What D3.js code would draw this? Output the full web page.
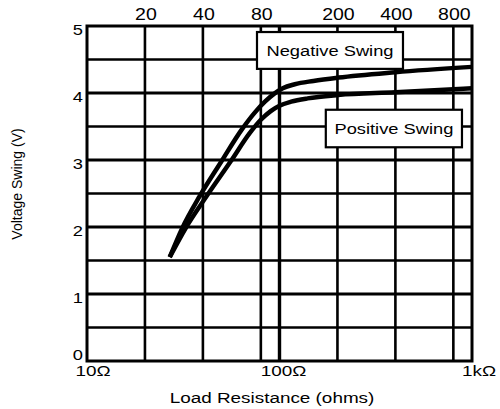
<!DOCTYPE html>
<html><head><meta charset="utf-8">
<script src="https://cdn.jsdelivr.net/npm/d3@7"></script>
<style>body{margin:0;background:#fff}svg{display:block}</style>
</head><body>
<script>
// ---- data ----
const negR = [26.9, 31.2, 38.5, 49.7, 63.5, 74, 84, 94, 104, 120, 150, 202, 400, 1000];
const negV = [1.55, 1.98, 2.46, 2.97, 3.45, 3.70, 3.87, 3.99, 4.07, 4.13, 4.18, 4.23, 4.31, 4.39];
const posR = [26.9, 32.8, 41.6, 55.8, 70, 80, 90, 100, 115, 140, 202, 400, 1000];
const posV = [1.55, 2.00, 2.45, 2.98, 3.40, 3.60, 3.73, 3.81, 3.87, 3.92, 3.97, 4.01, 4.07];
const topTicks = [20, 40, 80, 200, 400, 800];
const vGrid = [20, 40, 80, 100, 200, 400, 800];
const bottomTicks = [10, 100, 1000];
const bottomLabels = ["10\u03A9", "100\u03A9", "1k\u03A9"];
const yTicks = [0, 1, 2, 3, 4, 5];
const hGrid = [0.5, 1, 1.5, 2, 2.5, 3, 3.5, 4, 4.5];
const legendNeg = {label: "Negative Swing", r0: 76.4, r1: 438, v0: 4.36, v1: 4.91};
const legendPos = {label: "Positive Swing", r0: 174, r1: 887, v0: 3.19, v1: 3.75};

const W = 500, H = 409;
const x = d3.scaleLog().domain([10, 1000]).range([87, 472]);
const y = d3.scaleLinear().domain([0, 5]).range([361, 26]);
const SX = 1.22;
const FONT = "'Liberation Sans', Arial, Helvetica, sans-serif";

const svg = d3.select("body").append("svg").attr("width", W).attr("height", H);

function txt(px, py, s, size, anchor) {
  return svg.append("text")
    .attr("transform", `translate(${px},${py}) scale(${SX},1)`)
    .attr("text-anchor", anchor || "middle")
    .attr("font-family", FONT).attr("font-size", size).attr("fill", "#000")
    .text(s);
}

// grid
svg.append("g").selectAll("line").data(hGrid).join("line")
  .attr("x1", x.range()[0]).attr("x2", x.range()[1])
  .attr("y1", d => y(d)).attr("y2", d => y(d))
  .attr("stroke", "#000").attr("stroke-width", d => Number.isInteger(d) ? 2.8 : 2.3);
svg.append("g").selectAll("line").data(vGrid).join("line")
  .attr("x1", d => x(d)).attr("x2", d => x(d))
  .attr("y1", y(0)).attr("y2", y(5))
  .attr("stroke", "#000").attr("stroke-width", d => d === 100 ? 3.4 : 2.6);

// frame
svg.append("rect").attr("x", x(10)).attr("y", y(5))
  .attr("width", x(1000) - x(10)).attr("height", y(0) - y(5))
  .attr("fill", "none").attr("stroke", "#000").attr("stroke-width", 3);

// curves
const line = d3.line().x(d => x(d[0])).y(d => y(d[1])).curve(d3.curveMonotoneX);
svg.append("path").datum(negR.map((r, i) => [r, negV[i]])).attr("d", line)
  .attr("fill", "none").attr("stroke", "#000").attr("stroke-width", 4.5).attr("stroke-linejoin", "round");
svg.append("path").datum(posR.map((r, i) => [r, posV[i]])).attr("d", line)
  .attr("fill", "none").attr("stroke", "#000").attr("stroke-width", 4.5).attr("stroke-linejoin", "round");

// legend boxes
[legendNeg, legendPos].forEach(L => {
  svg.append("rect").attr("x", x(L.r0)).attr("y", y(L.v1))
    .attr("width", x(L.r1) - x(L.r0)).attr("height", y(L.v0) - y(L.v1))
    .attr("fill", "#fff").attr("stroke", "#000").attr("stroke-width", 2.2);
  const cx = (x(L.r0) + x(L.r1)) / 2, cy = (y(L.v0) + y(L.v1)) / 2;
  txt(cx, cy + 5.5, L.label, 15);
});

// top tick labels
topTicks.forEach(t => txt(x(t) + 1, 20, String(t), 16));
// bottom labels
bottomTicks.forEach((t, i) => txt(x(t) + (i === 0 ? 6 : i === 1 ? 4 : 7), 376, bottomLabels[i], 15.5));
// y tick labels
yTicks.forEach(t => txt(83, y(t) + (t === 0 ? -1 : 9), String(t), 15, "end"));

// axis titles
txt(272, 403, "Load Resistance (ohms)", 15.5);
svg.append("text").attr("transform", `translate(22,184) rotate(-90)`)
  .attr("text-anchor", "middle").attr("font-family", FONT).attr("font-size", 14)
  .text("Voltage Swing (V)");
</script>
</body></html>
